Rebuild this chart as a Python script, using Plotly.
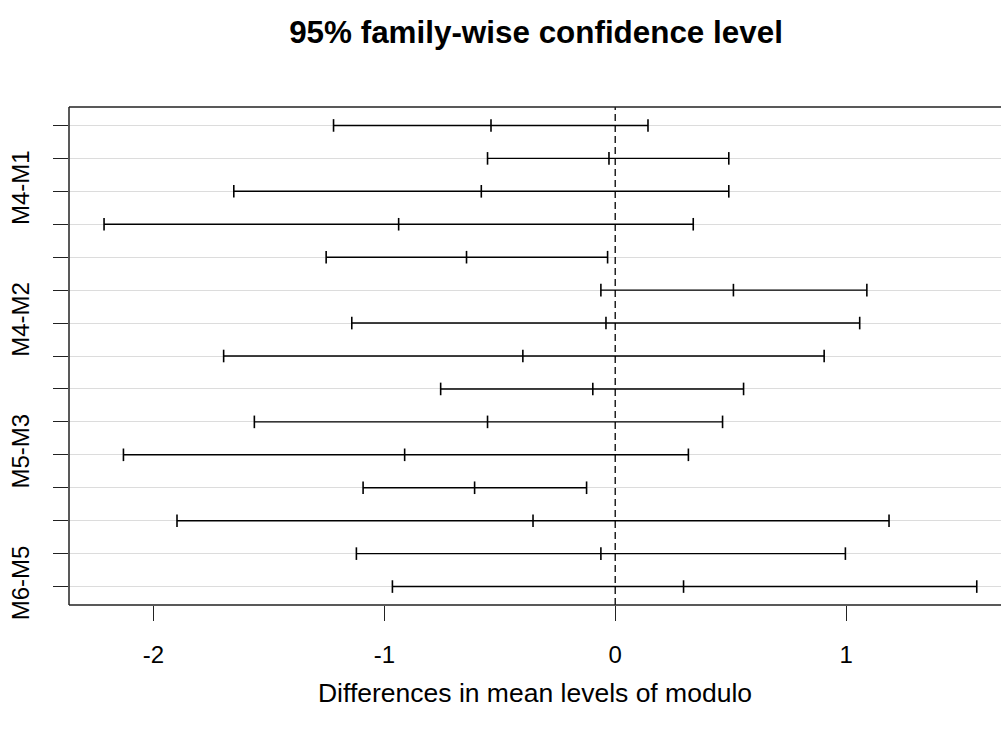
import plotly.graph_objects as go

# Tukey HSD comparisons of modulo means (top to bottom)
comparisons = ["M2-M1", "M3-M1", "M4-M1", "M5-M1", "M6-M1",
               "M3-M2", "M4-M2", "M5-M2", "M6-M2",
               "M4-M3", "M5-M3", "M6-M3",
               "M5-M4", "M6-M4", "M6-M5"]
diff = [-0.538, -0.027, -0.580, -0.938, -0.644,
        0.512, -0.040, -0.400, -0.097,
        -0.553, -0.912, -0.609,
        -0.356, -0.062, 0.296]
lwr = [-1.220, -0.553, -1.652, -2.214, -1.252,
       -0.062, -1.141, -1.696, -0.756,
       -1.563, -2.130, -1.092,
       -1.898, -1.121, -0.965]
upr = [0.142, 0.492, 0.492, 0.338, -0.033,
       1.090, 1.059, 0.905, 0.556,
       0.465, 0.317, -0.124,
       1.186, 0.997, 1.566]
shown_labels = {"M4-M1", "M4-M2", "M5-M3", "M6-M5"}
x_ticks = [-2, -1, 0, 1]

n = len(comparisons)
ypos = list(range(n, 0, -1))

seg_x, seg_y = [], []
for lo, hi, y in zip(lwr, upr, ypos):
    seg_x += [lo, hi, None]
    seg_y += [y, y, None]

fig = go.Figure()
fig.add_trace(go.Scatter(x=seg_x, y=seg_y, mode="lines",
                         line=dict(color="black", width=1.4),
                         hoverinfo="skip", showlegend=False))
fig.add_trace(go.Scatter(x=lwr + diff + upr, y=ypos * 3, mode="markers",
                         marker=dict(symbol="line-ns", size=9,
                                     line=dict(color="black", width=1.6)),
                         showlegend=False))

# dashed reference line at zero difference
fig.add_shape(type="line", xref="x", yref="paper", x0=0, x1=0, y0=0, y1=1,
              line=dict(color="black", width=1.3, dash="7px,4px"))
# plot frame (left, top, bottom)
for x0, x1, y0, y1 in [(0, 0, 0, 1), (0, 1, 1, 1), (0, 1, 0, 0)]:
    fig.add_shape(type="line", xref="paper", yref="paper",
                  x0=x0, x1=x1, y0=y0, y1=y1,
                  line=dict(color="#222", width=1.5))

px_per_unit = 231.0
x_left = (68.5 - 615) / px_per_unit
x_right = (1001 - 615) / px_per_unit

font = "Liberation Sans, Arial, sans-serif"
fig.update_layout(
    width=1001, height=731,
    margin=dict(l=68.5, r=0, t=106.5, b=125.5, pad=0),
    paper_bgcolor="white", plot_bgcolor="white",
    font=dict(family=font, color="black"),
    title=dict(text="<b>95% family-wise confidence level</b>",
               font=dict(size=31.4, family=font, color="black"),
               x=536 / 1001, xanchor="center",
               y=1 - 32 / 731, yanchor="middle"),
    xaxis=dict(range=[x_left, x_right], tickvals=x_ticks,
               ticktext=[str(v) for v in x_ticks],
               showgrid=False, zeroline=False, showline=False,
               ticks="outside", ticklen=15, tickwidth=1.3, tickcolor="#222",
               tickfont=dict(size=24), ticklabelstandoff=13,
               title=dict(text="Differences in mean levels of modulo",
                          font=dict(size=26.5), standoff=16)),
    yaxis=dict(range=[0.44, n + 0.56], tickvals=ypos,
               ticktext=[c if c in shown_labels else "" for c in comparisons],
               tickangle=-90, showgrid=True, gridcolor="#dcdcdc", gridwidth=1.2,
               zeroline=False, showline=False,
               ticks="outside", ticklen=15, tickwidth=1.3, tickcolor="#222",
               tickfont=dict(size=24), ticklabelstandoff=14),
)

fig.write_html("out.html")
